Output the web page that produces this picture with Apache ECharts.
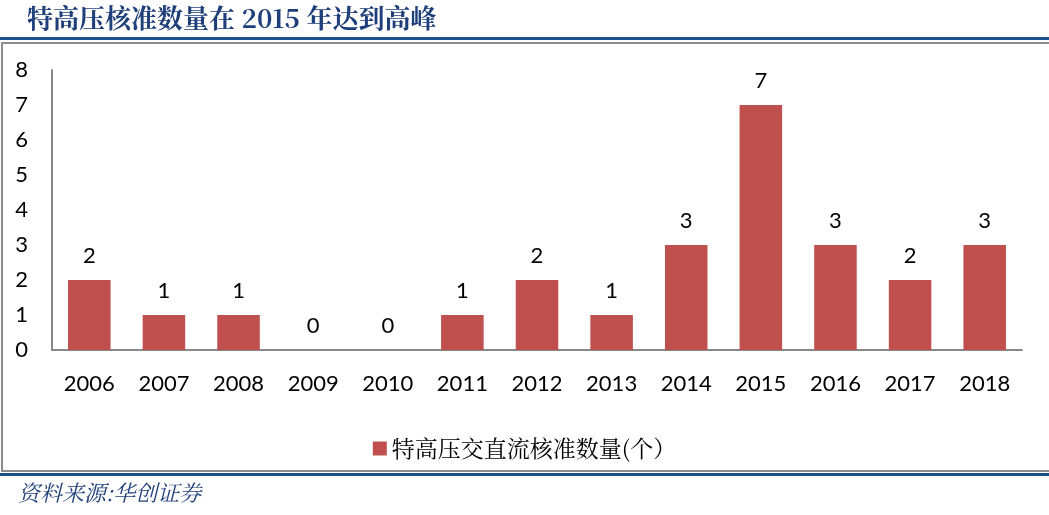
<!DOCTYPE html>
<html><head><meta charset="utf-8">
<script src="https://cdn.jsdelivr.net/npm/echarts@6/dist/echarts.min.js"></script>
<style>html,body{margin:0;padding:0;background:#fff}#c{width:1049px;height:515px}</style>
</head><body><div id="c"></div>
<script>
const categories = ['2006','2007','2008','2009','2010','2011','2012','2013','2014','2015','2016','2017','2018'];
const values = [2,1,1,0,0,1,2,1,3,7,3,2,3];
const seriesName = '特高压交直流核准数量(个）';
const titleText = '特高压核准数量在 2015 年达到高峰';
const sourceText = '资料来源:华创证券';

const numFont = 'Lato, "Open Sans", sans-serif';
const chart = echarts.init(document.getElementById('c'));
chart.setOption({
  animation: false,
  backgroundColor: '#fff',
  grid: {left: 52, right: 27, top: 70, bottom: 165},
  legend: {
    bottom: 50, left: 'center',
    itemWidth: 14, itemHeight: 14, icon: 'rect', itemGap: 6,
    textStyle: {fontFamily: '"Noto Serif CJK SC","Noto Sans CJK SC", serif', fontSize: 23, color: '#000'},
    data: [seriesName]
  },
  xAxis: {
    type: 'category', data: categories,
    axisLine: {lineStyle: {color: '#888', width: 2}},
    axisTick: {show: false},
    axisLabel: {fontFamily: numFont, fontSize: 22, color: '#000', margin: 23}
  },
  yAxis: {
    type: 'value', min: 0, max: 8, interval: 1,
    axisLine: {show: true, lineStyle: {color: '#888', width: 2}},
    axisTick: {show: false},
    splitLine: {show: false},
    axisLabel: {fontFamily: numFont, fontSize: 22, color: '#000', margin: 24}
  },
  series: [{
    name: seriesName, type: 'bar', data: values,
    barWidth: '57%',
    itemStyle: {color: '#C0504D'},
    label: {show: true, position: 'top', distance: 13, fontFamily: numFont, fontSize: 22, color: '#000'}
  }],
  graphic: [
    {type: 'text', left: 27, top: 5, style: {text: titleText, font: 'bold 26px "Noto Serif CJK SC","Noto Sans CJK SC", serif', fill: '#1F3F7A'}},
    {type: 'rect', shape: {x: 0, y: 37, width: 1049, height: 3}, style: {fill: '#1F4E8C'}},
    {type: 'rect', shape: {x: 2, y: 43, width: 1060, height: 428}, style: {fill: 'none', stroke: '#8c8c8c', lineWidth: 2}},
    {type: 'rect', shape: {x: 0, y: 473, width: 1049, height: 3}, style: {fill: '#1F4E8C'}},
    {type: 'text', left: 18, top: 482, style: {text: sourceText, font: 'italic 22px "Noto Serif CJK SC","Noto Sans CJK SC", serif', fill: '#1F3F7A'}}
  ]
});
</script></body></html>
